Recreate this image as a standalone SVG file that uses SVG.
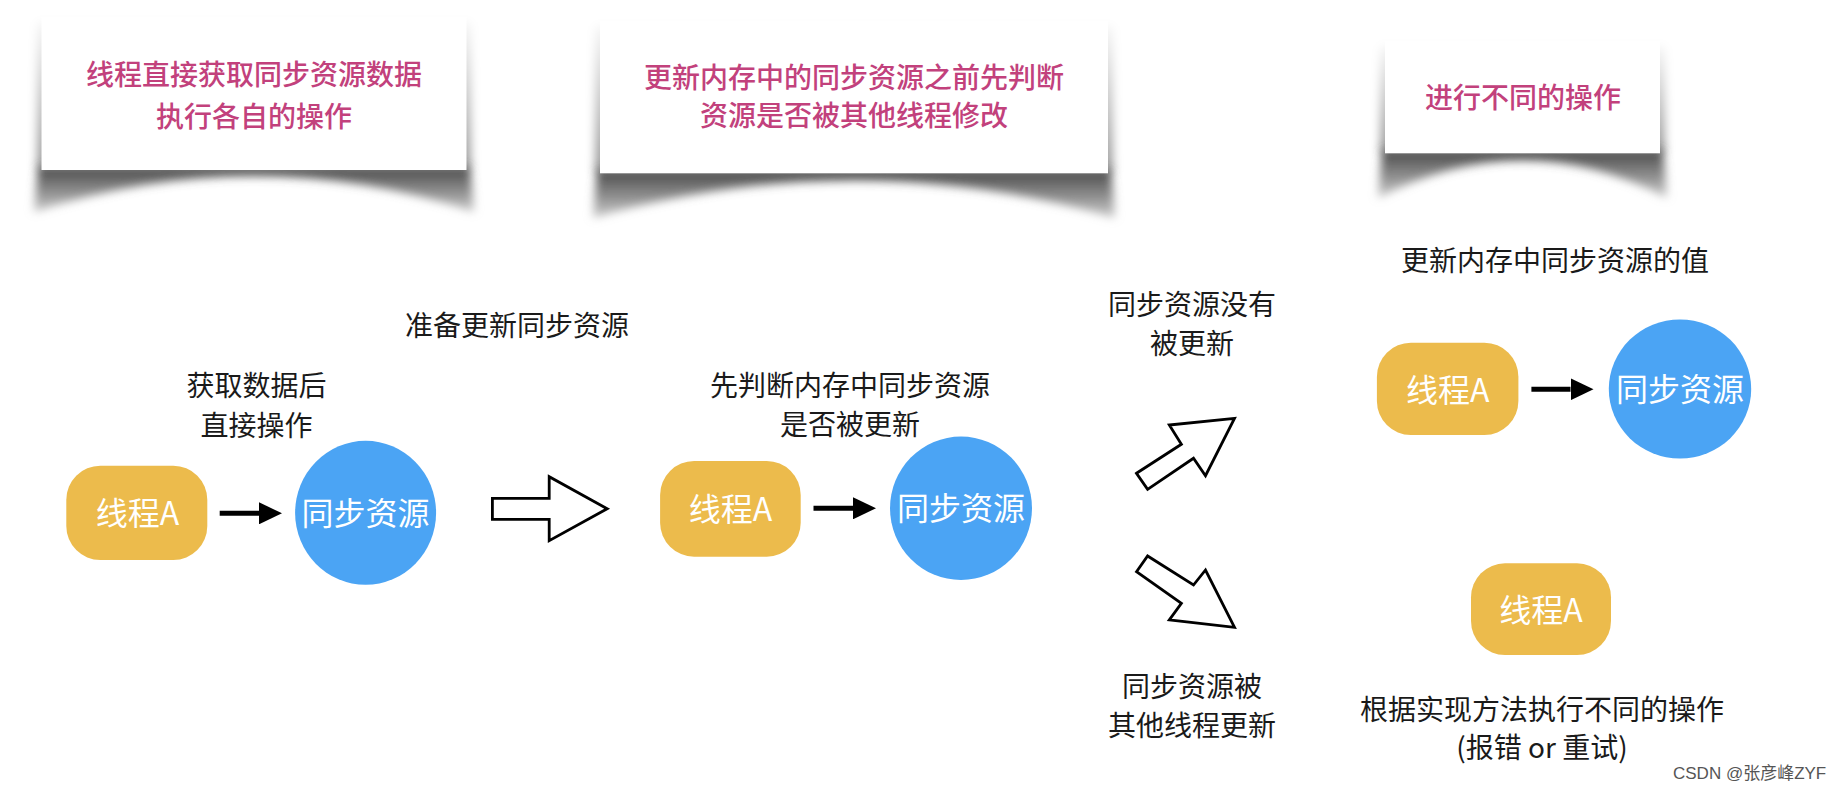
<svg xmlns="http://www.w3.org/2000/svg" width="1837" height="791" viewBox="0 0 1837 791">
<defs>
<style>
.title{font-family:"Noto Sans CJK SC","Noto Sans",sans-serif;font-size:28px;font-weight:500;fill:#C2417C;text-anchor:middle}
.lbl{font-family:"Noto Sans CJK SC","Noto Sans",sans-serif;font-size:28px;fill:#1a1a1a;text-anchor:middle}
.wtxt{font-family:"Noto Sans CJK SC","Noto Sans",sans-serif;font-size:32px;fill:#ffffff;text-anchor:middle}
.thread{fill:#ECBB4C}
.res{fill:#4BA4F4}
.card{fill:#ffffff}
.curl{fill:url(#curlGrad);filter:url(#blur2)}
.side{fill:url(#sideGrad);filter:url(#blur)}
.conn{stroke:#000;stroke-width:5;fill:none}
.big{fill:#fff;stroke:#000;stroke-width:2.8;stroke-linejoin:miter}
.wm{font-family:"Liberation Sans","Noto Sans CJK SC",sans-serif;font-size:17px;fill:#555}
</style>
<filter id="blur" x="-20%" y="-50%" width="140%" height="200%"><feGaussianBlur stdDeviation="5"/></filter>
<filter id="blur2" x="-20%" y="-80%" width="140%" height="260%"><feGaussianBlur stdDeviation="5"/></filter>
<linearGradient id="sideGrad" x1="0" y1="0" x2="0" y2="1">
<stop offset="0" stop-color="#000" stop-opacity="0.03"/>
<stop offset="1" stop-color="#000" stop-opacity="0.4"/>
</linearGradient>
<linearGradient id="curlGrad" x1="0" y1="0" x2="0" y2="1">
<stop offset="0" stop-color="#3a3a3a" stop-opacity="0.95"/>
<stop offset="0.6" stop-color="#808080" stop-opacity="0.85"/>
<stop offset="1" stop-color="#a8a8a8" stop-opacity="0.6"/>
</linearGradient>
<marker id="ah" markerUnits="userSpaceOnUse" markerWidth="24" markerHeight="22" refX="0" refY="11" orient="auto">
<path d="M0,0 L23,11 L0,22 Z" fill="#000"/>
</marker>
</defs>
<rect width="1837" height="791" fill="#fff"/>

<g id="card1">
<rect class="side" x="37" y="22" width="434" height="146"/>
<path class="curl" d="M38,166 L470,166 L474,212 Q254,140 34,212 Z"/>
<rect class="card" x="41.5" y="16.7" width="425" height="153.3"/>
<text class="title" x="254" y="84.7">线程直接获取同步资源数据</text>
<text class="title" x="254" y="127">执行各自的操作</text>
</g>

<g id="card2">
<rect class="side" x="595" y="26" width="518" height="146"/>
<path class="curl" d="M597,169 L1111,169 L1115,218 Q854,143 593,218 Z"/>
<rect class="card" x="600" y="20.7" width="508" height="152.6"/>
<text class="title" x="854" y="88">更新内存中的同步资源之前先判断</text>
<text class="title" x="854" y="126.3">资源是否被其他线程修改</text>
</g>

<g id="card3">
<rect class="side" x="1380" y="46" width="285" height="106"/>
<path class="curl" d="M1382,149 L1663,149 L1667,198 Q1523,123 1378,198 Z"/>
<rect class="card" x="1385" y="40.7" width="275" height="112.6"/>
<text class="title" x="1523" y="108">进行不同的操作</text>
</g>

<g id="label-prepare"><text class="lbl" x="517" y="336.3">准备更新同步资源</text></g>
<g id="label-direct">
<text class="lbl" x="256.5" y="395.5">获取数据后</text>
<text class="lbl" x="256.5" y="435.5">直接操作</text>
</g>
<g id="label-check">
<text class="lbl" x="850" y="395.5">先判断内存中同步资源</text>
<text class="lbl" x="850" y="434.7">是否被更新</text>
</g>
<g id="label-notupdated">
<text class="lbl" x="1192" y="314.5">同步资源没有</text>
<text class="lbl" x="1192" y="353.8">被更新</text>
</g>
<g id="label-updated">
<text class="lbl" x="1192" y="697.2">同步资源被</text>
<text class="lbl" x="1192" y="735.5">其他线程更新</text>
</g>
<g id="label-write"><text class="lbl" x="1555" y="270.5">更新内存中同步资源的值</text></g>
<g id="label-diff">
<text class="lbl" x="1542" y="720">根据实现方法执行不同的操作</text>
<text class="lbl" x="1542" y="758">(报错 or 重试)</text>
</g>

<g id="threadA1">
<rect class="thread" x="66.3" y="465.7" width="141" height="94.3" rx="34"/>
<text class="wtxt" x="137.5" y="524.8">线程A</text>
</g>
<g id="res1">
<ellipse class="res" cx="365.6" cy="512.8" rx="70.5" ry="72"/>
<text class="wtxt" x="365.6" y="525">同步资源</text>
</g>
<g id="threadA2">
<rect class="thread" x="660.1" y="461" width="140.6" height="95.7" rx="34"/>
<text class="wtxt" x="730.4" y="521">线程A</text>
</g>
<g id="res2">
<ellipse class="res" cx="961" cy="508.3" rx="71" ry="71.7"/>
<text class="wtxt" x="961" y="520.3">同步资源</text>
</g>
<g id="threadA3">
<rect class="thread" x="1376.9" y="342.7" width="141.5" height="92.3" rx="34"/>
<text class="wtxt" x="1447.7" y="402">线程A</text>
</g>
<g id="res3">
<ellipse class="res" cx="1680" cy="389" rx="71.2" ry="69.5"/>
<text class="wtxt" x="1680" y="401">同步资源</text>
</g>
<g id="threadA4">
<rect class="thread" x="1471" y="563.3" width="140" height="91.7" rx="34"/>
<text class="wtxt" x="1541" y="622">线程A</text>
</g>

<g id="connectors">
<line class="conn" x1="219.7" y1="513.3" x2="259" y2="513.3" marker-end="url(#ah)"/>
<line class="conn" x1="813.5" y1="508.3" x2="853" y2="508.3" marker-end="url(#ah)"/>
<line class="conn" x1="1531.4" y1="389.3" x2="1570.5" y2="389.3" marker-end="url(#ah)"/>
<path class="big" d="M492.4,498.3 L549.2,498.3 L549.2,476.7 L607.2,508.7 L549.2,540.7 L549.2,519.3 L492.4,519.3 Z"/>
<path class="big" d="M1136.5,473.3 L1181.4,444.3 L1169.3,425 L1234.5,418.3 L1205.5,475.7 L1193.5,458.3 L1147.6,489.3 Z"/>
<path class="big" d="M1136.5,571.7 L1147.6,556 L1193.5,585 L1205.5,570 L1234.5,627.3 L1169.3,620 L1181.4,603.3 Z"/>
</g>

<text class="wm" x="1673" y="779">CSDN @张彦峰ZYF</text>
</svg>
